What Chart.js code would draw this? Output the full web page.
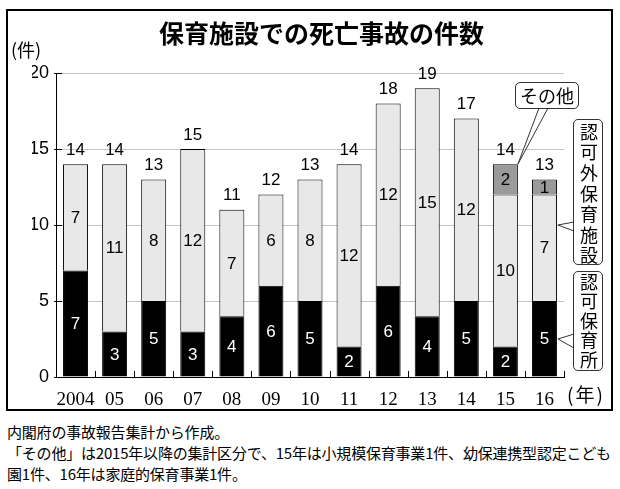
<!DOCTYPE html>
<html>
<head>
<meta charset="utf-8">
<script src="https://cdn.jsdelivr.net/npm/chart.js@4.4.0/dist/chart.umd.min.js"></script>
<style>
  body { margin: 0; background: #fff; font-family: "Noto Sans CJK JP", sans-serif; }
  #wrap { position: relative; width: 620px; height: 489px; overflow: hidden; }
  #frame { position: absolute; left: 6px; top: 9px; width: 607px; height: 402px; border: 2px solid #000; box-sizing: border-box; }
  #c { position: absolute; left: 8px; top: 11px; }
  .lbl { position: absolute; color: #000; line-height: 1; white-space: nowrap; }
  .box { position: absolute; background: #fff; border: 1.3px solid #333; border-radius: 5px; box-sizing: border-box; color: #000; white-space: nowrap; }
  .vert { writing-mode: vertical-rl; font-size: 18px; line-height: 27px; text-align: center; }
  .note { position: absolute; left: 7px; font-size: 15px; line-height: 1; white-space: nowrap; letter-spacing: -0.2px; }
</style>
</head>
<body>
<div id="wrap">
  <div id="frame"></div>
  <canvas id="c" width="603" height="398"></canvas>
  <div class="lbl" style="left:11px; top:40px; font-size:18px;">(件)</div>
  <div class="lbl" style="left:567px; top:384px; font-size:19px; letter-spacing:2px;">(年)</div>
  <div class="box" id="boxOther" style="left:515px; top:82px; width:64px; height:27px; font-size:18px; text-align:center; line-height:24px;">その他</div>
  <div class="box vert" id="boxUnlic" style="left:573px; top:119px; width:30px; height:146px; padding-top:3px; letter-spacing:2.6px;">認可外保育施設</div>
  <div class="box vert" id="boxLic" style="left:573px; top:271px; width:30px; height:100px; padding-top:1px; letter-spacing:1.5px;">認可保育所</div>
  <div class="note" style="top:424px;">内閣府の事故報告集計から作成。</div>
  <div class="note" style="top:445px;">「その他」は2015年以降の集計区分で、15年は小規模保育事業1件、幼保連携型認定こども</div>
  <div class="note" style="top:466px;">園1件、16年は家庭的保育事業1件。</div>
</div>
<script>
const years = ['2004', '05', '06', '07', '08', '09', '10', '11', '12', '13', '14', '15', '16'];
const licensed = [7, 3, 5, 3, 4, 6, 5, 2, 6, 4, 5, 2, 5];
const unlicensed = [7, 11, 8, 12, 7, 6, 8, 12, 12, 15, 12, 10, 7];
const other = [null, null, null, null, null, null, null, null, null, null, null, 2, 1];
const yTicks = [0, 5, 10, 15, 20];

const totals = years.map((y, i) => licensed[i] + unlicensed[i] + (other[i] || 0));

// numbers inside the bars and totals on top
const barLabels = {
  id: 'barLabels',
  afterDatasetsDraw(chart) {
    const ctx = chart.ctx;
    ctx.save();
    ctx.textAlign = 'center';
    ctx.textBaseline = 'middle';
    ctx.font = '17px "Liberation Sans", Arial, sans-serif';
    chart.data.datasets.forEach((ds, d) => {
      const meta = chart.getDatasetMeta(d);
      meta.data.forEach((el, i) => {
        const v = ds.data[i];
        if (!v) return;
        ctx.fillStyle = d === 0 ? '#fff' : '#000';
        ctx.fillText(String(v), el.x, (el.y + el.base) / 2 + 1);
      });
    });
    ctx.fillStyle = '#000';
    years.forEach((y, i) => {
      let top = chart.getDatasetMeta(1).data[i];
      if (other[i]) top = chart.getDatasetMeta(2).data[i];
      ctx.fillText(String(totals[i]), top.x, top.y - 14);
    });
    ctx.restore();
  }
};

// short black ticks pointing into the plot
const innerTicks = {
  id: 'innerTicks',
  afterDraw(chart) {
    const ctx = chart.ctx;
    const xs = chart.scales.x, ys = chart.scales.y;
    const step = xs.getPixelForValue(1) - xs.getPixelForValue(0);
    ctx.save();
    ctx.strokeStyle = '#000';
    ctx.lineWidth = 1;
    ctx.beginPath();
    for (let i = 0; i <= years.length; i++) {
      const x = Math.round(xs.getPixelForValue(i) - step / 2) + 0.5;
      ctx.moveTo(x, ys.bottom);
      ctx.lineTo(x, ys.bottom - 6);
    }
    yTicks.forEach(v => {
      const y = Math.round(ys.getPixelForValue(v)) + 0.5;
      ctx.moveTo(xs.left - 2, y);
      ctx.lineTo(xs.left + 6, y);
    });
    ctx.stroke();
    ctx.restore();
  }
};

// pointer tails from the callout boxes to the bars
const callouts = {
  id: 'callouts',
  afterDraw(chart) {
    const ctx = chart.ctx;
    const ys = chart.scales.y;
    const cr = chart.canvas.getBoundingClientRect();
    const box = id => {
      const r = document.getElementById(id).getBoundingClientRect();
      return { l: r.left - cr.left, t: r.top - cr.top, r: r.right - cr.left, b: r.bottom - cr.top };
    };
    const tail = (tip, a, b) => {
      ctx.beginPath();
      ctx.moveTo(a[0], a[1]);
      ctx.lineTo(tip[0], tip[1]);
      ctx.lineTo(b[0], b[1]);
      ctx.fillStyle = '#fff';
      ctx.fill();
      ctx.stroke();
    };
    ctx.save();
    ctx.strokeStyle = '#333';
    ctx.lineWidth = 1;
    const e15 = chart.getDatasetMeta(2).data[11];
    const bo = box('boxOther');
    tail([e15.x + e15.width / 2, e15.y], [bo.l + 24, bo.b - 1], [bo.l + 33, bo.b - 1]);
    const e16 = chart.getDatasetMeta(1).data[12];
    const bu = box('boxUnlic');
    const tipU = ys.getPixelForValue(10);
    tail([e16.x + e16.width / 2 + 1, tipU], [bu.l + 1, tipU - 3], [bu.l + 1, tipU + 6]);
    const bl = box('boxLic');
    const tipL = ys.getPixelForValue(2.5);
    tail([e16.x + e16.width / 2 + 1, tipL], [bl.l + 1, tipL - 5], [bl.l + 1, tipL + 9]);
    ctx.restore();
  }
};

const chart = new Chart(document.getElementById('c'), {
  type: 'bar',
  data: {
    labels: years,
    datasets: [
      { label: '認可保育所', data: licensed, backgroundColor: '#000', borderColor: '#000', borderWidth: 1 },
      { label: '認可外保育施設', data: unlicensed, backgroundColor: '#e8e8e8', borderColor: '#000', borderWidth: 1 },
      { label: 'その他', data: other, backgroundColor: '#9a9a9a', borderColor: '#000', borderWidth: 1 }
    ]
  },
  options: {
    responsive: false,
    animation: false,
    layout: { padding: { left: 24, right: 0, top: 0, bottom: 0 } },
    datasets: { bar: { categoryPercentage: 1, barPercentage: 0.64 } },
    plugins: {
      legend: { display: false },
      tooltip: { enabled: false },
      title: {
        display: true,
        text: '保育施設での死亡事故の件数',
        color: '#000',
        font: { family: '"Noto Sans CJK JP", sans-serif', size: 25, weight: 'bold' },
        padding: { top: 7, bottom: 25 }
      }
    },
    scales: {
      x: {
        stacked: true,
        grid: { display: false },
        border: { display: true, color: '#000', width: 1 },
        ticks: { color: '#000', padding: 4, maxRotation: 0, minRotation: 0, autoSkip: false,
          font: { family: '"Liberation Serif", "Times New Roman", serif', size: 19 } },
        afterFit: s => { s.height = 32; }
      },
      y: {
        stacked: true,
        min: 0,
        max: 20,
        afterBuildTicks: s => { s.ticks = yTicks.map(v => ({ value: v })); },
        grid: { color: '#c4c4c4', lineWidth: 1, drawTicks: false },
        border: { display: true, color: '#000', width: 1 },
        ticks: { color: '#000', padding: 7, font: { family: '"Liberation Sans", Arial, sans-serif', size: 18 } },
        afterFit: s => { s.width = 24; }
      },
      // empty right-hand space for the callout boxes
      side: {
        type: 'linear',
        position: 'right',
        grid: { display: false },
        border: { display: false },
        ticks: { display: false },
        afterFit: s => { s.width = 47; }
      }
    }
  },
  plugins: [barLabels, innerTicks, callouts]
});
</script>
</body>
</html>
